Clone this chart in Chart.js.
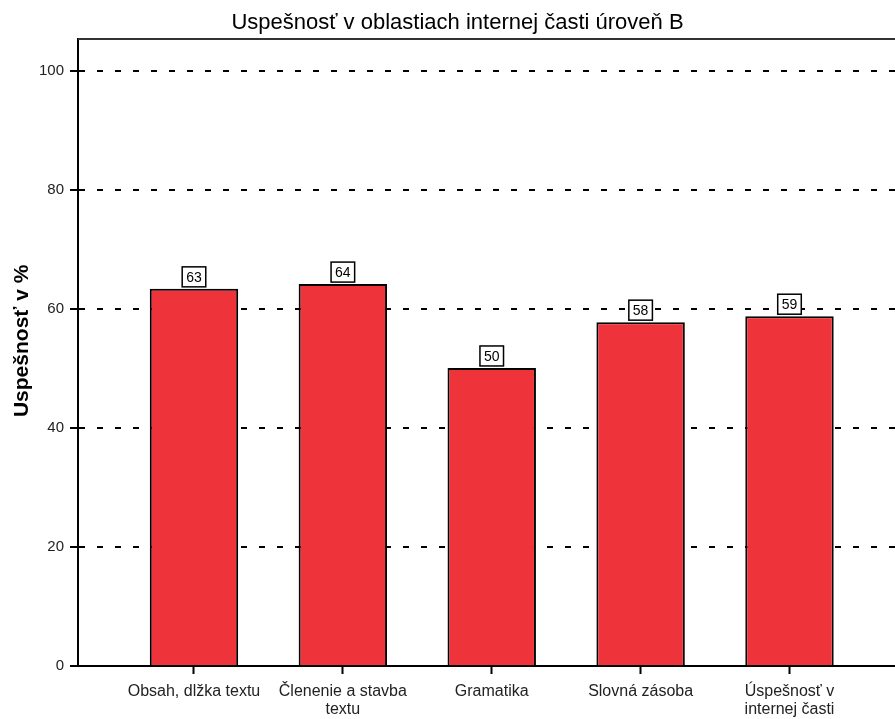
<!DOCTYPE html>
<html>
<head>
<meta charset="utf-8">
<script src="https://cdn.jsdelivr.net/npm/chart.js@4"></script>
<style>
  html, body { margin: 0; padding: 0; overflow: hidden; background: #fff; }
</style>
</head>
<body>
<canvas id="uspesnost" width="915" height="719"></canvas>
<script>
const categories = [
  ["Obsah, dlžka textu"],
  ["Členenie a stavba", "textu"],
  ["Gramatika"],
  ["Slovná zásoba"],
  ["Úspešnosť v", "internej časti"],
];
const values = [63.4, 64.2, 50.1, 57.8, 58.8];
const yTicks = [0, 20, 40, 60, 80, 100];

// rámik hore
const frameTop = {
  id: "frameTop",
  afterDraw(chart) {
    const { ctx, chartArea } = chart;
    ctx.save();
    ctx.strokeStyle = "#333";
    ctx.lineWidth = 2;
    ctx.beginPath();
    ctx.moveTo(chartArea.left, chartArea.top);
    ctx.lineTo(chartArea.right, chartArea.top);
    ctx.stroke();
    ctx.restore();
  },
};

// hodnoty v rámčeku nad stĺpcami
const boxLabels = {
  id: "boxLabels",
  afterDatasetsDraw(chart) {
    const { ctx } = chart;
    const meta = chart.getDatasetMeta(0);
    ctx.save();
    ctx.font = "14px 'Liberation Sans', Arial, sans-serif";
    ctx.textAlign = "center";
    ctx.textBaseline = "middle";
    meta.data.forEach((bar, i) => {
      const txt = String(Math.round(values[i]));
      const w = ctx.measureText(txt).width + 8;
      const h = 20;
      const x = bar.x - w / 2;
      const y = bar.y - 2 - h;
      ctx.fillStyle = "#fff";
      ctx.fillRect(x, y, w, h);
      ctx.strokeStyle = "#000";
      ctx.lineWidth = 1.5;
      ctx.strokeRect(x, y, w, h);
      ctx.fillStyle = "#000";
      ctx.fillText(txt, bar.x, y + h / 2 + 1);
    });
    ctx.restore();
  },
};

const ctx1 = document.getElementById("uspesnost");

new Chart(ctx1, {
  type: "bar",
  data: {
    datasets: [
      {
        label: "Uspešnosť",
        data: values.map((v, i) => ({ x: i + 1, y: v })),
        backgroundColor: "#EF333A",
        borderColor: "#000",
        borderWidth: 2,
        barPercentage: 0.594,
        categoryPercentage: 1,
      },
    ],
  },
  options: {
    responsive: false,
    animation: false,
    layout: { padding: 0 },
    plugins: {
      legend: { display: false },
      tooltip: { enabled: false },
      title: {
        display: true,
        text: "Uspešnosť v oblastiach internej časti úroveň B",
        color: "#000",
        font: { size: 22, family: "'Liberation Sans', Arial, sans-serif", weight: "normal" },
        padding: { top: 10, bottom: 2.6 },
      },
    },
    scales: {
      x: {
        type: "linear",
        offset: false,
        min: 0.221,
        max: 5.843,
        afterBuildTicks: (scale) => {
          scale.ticks = categories.map((c, i) => ({ value: i + 1 }));
        },
        afterFit: (scale) => {
          scale.height = 53;
        },
        ticks: {
          autoSkip: false,
          maxRotation: 0,
          padding: 8,
          color: "#222",
          font: { size: 16, family: "'Liberation Sans', Arial, sans-serif", lineHeight: 1.15 },
          callback: (value) => categories[value - 1] || "",
        },
        grid: {
          offset: false,
          drawOnChartArea: false,
          tickLength: 8,
          tickColor: "#000",
          tickWidth: 2,
        },
        border: { display: true, color: "#000", width: 2 },
      },
      y: {
        min: 0,
        max: 105.4,
        afterBuildTicks: (scale) => {
          scale.ticks = yTicks.map((v) => ({ value: v }));
        },
        afterFit: (scale) => {
          scale.width = 78;
        },
        title: {
          display: true,
          text: "    Uspešnosť v %",
          color: "#000",
          font: { size: 21, weight: "bold", family: "'Liberation Sans', Arial, sans-serif" },
          padding: { top: 9.4, bottom: 0 },
        },
        ticks: {
          padding: 6,
          color: "#222",
          font: { size: 15, family: "'Liberation Sans', Arial, sans-serif" },
        },
        grid: {
          color: "#000",
          lineWidth: 2,
          tickLength: 8,
          tickColor: "#000",
          tickWidth: 2,
          tickBorderDash: [],
        },
        border: { display: true, color: "#000", width: 2, dash: [6, 12] },
      },
    },
  },
  plugins: [frameTop, boxLabels],
});
</script>
</body>
</html>
